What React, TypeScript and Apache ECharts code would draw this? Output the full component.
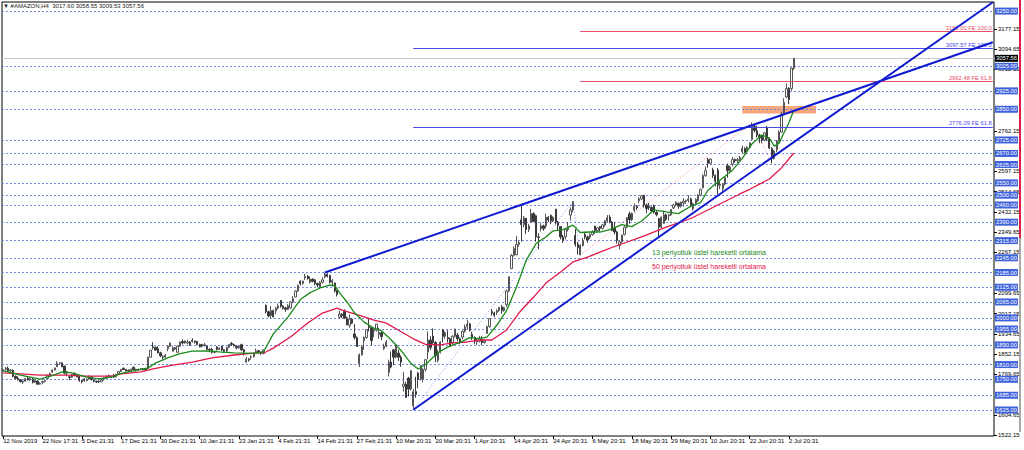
import React, { useEffect, useRef } from 'react';
import * as echarts from 'echarts';

const FONT = 'Liberation Sans';
const totalSlots = 404;
const labelEvery = 16;

const tickLabels = ['12 Nov 2019', '22 Nov 17:31', '5 Dec 21:31', '17 Dec 21:31', '30 Dec 21:31', '10 Jan 21:31', '23 Jan 21:31', '4 Feb 21:31', '14 Feb 21:31', '27 Feb 21:31', '10 Mar 20:31', '20 Mar 20:31', '1 Apr 20:31', '14 Apr 20:31', '24 Apr 20:31', '6 May 20:31', '18 May 20:31', '29 May 20:31', '10 Jun 20:31', '22 Jun 20:31', '2 Jul 20:31'];

const levelLines = [3250, 3025, 2925, 2850, 2725, 2670, 2625, 2550, 2500, 2460, 2390, 2315, 2245, 2185, 2125, 2065, 2000, 1955, 1890, 1810, 1750, 1685, 1625];

const scaleLabels = [3177.15, 3094.65, 3012.15, 2762.15, 2597.15, 2514.65, 2432.15, 2349.65, 2267.15, 2099.65, 2017.15, 1934.65, 1852.15, 1769.65, 1604.65, 1522.15];

const lastPrice = 3057.56;
const titleOHLC = ['3017.60', '3058.55', '3009.53', '3057.56'];

// [open, close, low, high] H4 bars
const nov = [
  [1782, 1790, 1778, 1794], [1790, 1795, 1786, 1800], [1795, 1784, 1780, 1802], [1784, 1788, 1781, 1792],
  [1786, 1762, 1758, 1790], [1762, 1754, 1750, 1766], [1754, 1748, 1745, 1762], [1748, 1740, 1738, 1751],
  [1738, 1742, 1731, 1746], [1742, 1752, 1740, 1755], [1754, 1748, 1745, 1760], [1748, 1753, 1743, 1756],
  [1750, 1738, 1733, 1757], [1738, 1745, 1735, 1748], [1743, 1730, 1727, 1746], [1730, 1734, 1728, 1738],
  [1738, 1741, 1730, 1744], [1741, 1745, 1737, 1749], [1753, 1766, 1752, 1768], [1766, 1773, 1763, 1777],
  [1780, 1788, 1775, 1790], [1788, 1796, 1785, 1798], [1801, 1815, 1801, 1824], [1815, 1818, 1810, 1821],
  [1817, 1800, 1800, 1817],
];
const dec = [
  [1804, 1775, 1770, 1805], [1775, 1781, 1762, 1784], [1760, 1758, 1747, 1765], [1758, 1769, 1755, 1773],
  [1775, 1765, 1762, 1776], [1765, 1760, 1757, 1768], [1763, 1745, 1740, 1763], [1745, 1740, 1733, 1748],
  [1751, 1745, 1740, 1754], [1745, 1751, 1742, 1753], [1751, 1760, 1748, 1766], [1760, 1749, 1745, 1762],
  [1747, 1742, 1738, 1750], [1742, 1739, 1735, 1745], [1742, 1740, 1735, 1746], [1740, 1748, 1738, 1750],
  [1750, 1755, 1745, 1758], [1755, 1760, 1752, 1766], [1765, 1762, 1758, 1769], [1762, 1760, 1755, 1765],
  [1767, 1760, 1755, 1770], [1760, 1769, 1758, 1770], [1773, 1782, 1770, 1784], [1782, 1790, 1780, 1792],
  [1795, 1790, 1787, 1798], [1790, 1784, 1782, 1792], [1787, 1785, 1780, 1790], [1785, 1792, 1783, 1792],
  [1799, 1790, 1787, 1802], [1790, 1786, 1782, 1793], [1788, 1790, 1785, 1794], [1790, 1793, 1788, 1796],
  [1793, 1790, 1786, 1796], [1790, 1789, 1784, 1792], [1794, 1840, 1793, 1842], [1840, 1869, 1838, 1870],
  [1883, 1880, 1872, 1901], [1880, 1869, 1866, 1884], [1874, 1858, 1855, 1884], [1858, 1846, 1840, 1862],
  [1842, 1840, 1832, 1848], [1840, 1848, 1838, 1853],
];
const jan = [
  [1875, 1885, 1864, 1888], [1885, 1898, 1882, 1898], [1864, 1878, 1864, 1886], [1878, 1874, 1870, 1882],
  [1860, 1885, 1860, 1888], [1885, 1902, 1882, 1903], [1904, 1898, 1892, 1913], [1898, 1906, 1895, 1908],
  [1898, 1902, 1892, 1911], [1902, 1891, 1886, 1905], [1909, 1905, 1900, 1917], [1905, 1901, 1895, 1908],
  [1905, 1892, 1888, 1906], [1892, 1883, 1880, 1895], [1891, 1886, 1880, 1895], [1886, 1891, 1884, 1898],
  [1885, 1872, 1868, 1887], [1872, 1869, 1860, 1876], [1872, 1860, 1855, 1878], [1860, 1862, 1856, 1866],
  [1882, 1872, 1867, 1885], [1872, 1877, 1869, 1880], [1885, 1870, 1865, 1886], [1870, 1864, 1857, 1873],
  [1865, 1880, 1860, 1883], [1880, 1892, 1877, 1894], [1896, 1892, 1886, 1902], [1892, 1887, 1883, 1895],
  [1885, 1878, 1872, 1889], [1878, 1884, 1875, 1887], [1891, 1870, 1865, 1895], [1870, 1861, 1847, 1874],
  [1820, 1832, 1817, 1841], [1832, 1828, 1822, 1836], [1840, 1842, 1830, 1848], [1842, 1853, 1839, 1858],
  [1864, 1866, 1858, 1875], [1866, 1858, 1855, 1870], [1858, 1855, 1850, 1862], [1855, 1870, 1852, 1872],
  [2051, 2025, 2018, 2055], [2025, 2008, 2003, 2030],
];
const feb = [
  [2010, 2030, 2000, 2048], [2030, 2004, 2002, 2034], [2029, 2040, 2015, 2045], [2040, 2049, 2035, 2059],
  [2071, 2048, 2042, 2073], [2048, 2039, 2034, 2052], [2041, 2035, 2025, 2045], [2035, 2050, 2032, 2056],
  [2041, 2065, 2037, 2068], [2065, 2079, 2060, 2089], [2085, 2110, 2084, 2112], [2110, 2133, 2106, 2136],
  [2150, 2140, 2132, 2153], [2140, 2150, 2136, 2152], [2163, 2170, 2155, 2180], [2170, 2160, 2156, 2174],
  [2145, 2158, 2141, 2170], [2158, 2149, 2145, 2162], [2155, 2140, 2133, 2159], [2140, 2134, 2125, 2144],
  [2126, 2145, 2124, 2150], [2145, 2155, 2140, 2166], [2167, 2178, 2161, 2185], [2178, 2170, 2165, 2182],
  [2173, 2145, 2140, 2176], [2145, 2153, 2127, 2158], [2142, 2110, 2104, 2145], [2110, 2095, 2088, 2115],
  [2003, 2015, 1996, 2029], [2015, 2009, 2000, 2020], [2026, 2000, 1995, 2035], [2000, 1972, 1970, 2005],
  [1970, 1995, 1960, 2014], [1995, 1979, 1975, 2000], [1935, 1920, 1912, 1975], [1920, 1884, 1882, 1925],
  [1814, 1850, 1800, 1855], [1850, 1883, 1845, 1889],
];
const mar = [
  [1907, 1920, 1870, 1925], [1920, 1953, 1915, 1954], [1965, 1960, 1945, 1996], [1960, 1908, 1888, 1965],
  [1946, 1950, 1922, 1958], [1950, 1975, 1945, 1975], [1933, 1940, 1915, 1960], [1940, 1924, 1910, 1945],
  [1875, 1885, 1869, 1895], [1885, 1902, 1880, 1910], [1778, 1820, 1761, 1830], [1820, 1800, 1795, 1863],
  [1870, 1840, 1807, 1872], [1840, 1891, 1835, 1893], [1857, 1840, 1825, 1871], [1840, 1820, 1801, 1848],
  [1721, 1730, 1700, 1779], [1730, 1676, 1675, 1740], [1755, 1710, 1680, 1760], [1710, 1785, 1705, 1786],
  [1641, 1700, 1626, 1710], [1700, 1689, 1675, 1760], [1775, 1750, 1714, 1780], [1750, 1807, 1745, 1807],
  [1750, 1790, 1738, 1795], [1790, 1830, 1782, 1830], [1861, 1910, 1832, 1945], [1910, 1880, 1870, 1925],
  [1926, 1900, 1890, 1957], [1900, 1846, 1820, 1905], [1827, 1860, 1818, 1870], [1860, 1902, 1855, 1905],
  [1951, 1925, 1900, 1955], [1925, 1940, 1915, 1945], [1920, 1915, 1900, 1950], [1915, 1885, 1885, 1920],
  [1898, 1925, 1890, 1930], [1925, 1955, 1920, 1956], [1930, 1915, 1905, 1939], [1915, 1900, 1893, 1920],
  [1922, 1945, 1912, 1950], [1945, 1963, 1940, 1973], [1965, 1975, 1955, 1993], [1975, 1950, 1944, 1980],
];
const apr = [
  [1933, 1920, 1910, 1944], [1920, 1907, 1893, 1925], [1901, 1905, 1890, 1915], [1905, 1918, 1900, 1927],
  [1912, 1900, 1889, 1926], [1900, 1906, 1895, 1912], [1937, 1965, 1935, 1968], [1965, 1997, 1960, 1999],
  [2026, 2020, 2010, 2036], [2020, 2011, 2003, 2025], [2022, 2030, 2012, 2035], [2030, 2043, 2025, 2044],
  [2045, 2030, 2017, 2053], [2030, 2042, 2025, 2046], [2054, 2110, 2045, 2115], [2110, 2168, 2105, 2168],
  [2201, 2255, 2201, 2260], [2255, 2283, 2250, 2292], [2257, 2300, 2256, 2333], [2300, 2307, 2290, 2315],
  [2400, 2380, 2311, 2461], [2380, 2408, 2370, 2415], [2406, 2360, 2341, 2406], [2360, 2375, 2350, 2382],
  [2390, 2425, 2388, 2444], [2425, 2393, 2390, 2430], [2416, 2330, 2310, 2420], [2330, 2328, 2280, 2345],
  [2363, 2375, 2352, 2388], [2375, 2363, 2355, 2380], [2375, 2410, 2365, 2425], [2410, 2399, 2390, 2415],
  [2418, 2395, 2382, 2420], [2395, 2410, 2390, 2414], [2443, 2390, 2380, 2444], [2390, 2376, 2357, 2395],
  [2372, 2330, 2320, 2373], [2330, 2314, 2306, 2338], [2330, 2360, 2320, 2365], [2360, 2372, 2352, 2391],
  [2419, 2440, 2396, 2450], [2440, 2474, 2430, 2475],
];
const may = [
  [2336, 2300, 2290, 2362], [2300, 2286, 2258, 2310], [2257, 2295, 2256, 2300], [2295, 2315, 2290, 2326],
  [2340, 2330, 2320, 2351], [2330, 2317, 2307, 2335], [2329, 2340, 2321, 2345], [2340, 2351, 2335, 2357],
  [2374, 2355, 2343, 2376], [2355, 2367, 2350, 2370], [2372, 2365, 2354, 2375], [2365, 2379, 2360, 2382],
  [2378, 2395, 2372, 2400], [2395, 2409, 2390, 2419], [2411, 2390, 2385, 2419], [2390, 2356, 2355, 2395],
  [2366, 2350, 2340, 2391], [2350, 2315, 2303, 2355], [2294, 2310, 2280, 2315], [2310, 2338, 2305, 2340],
  [2340, 2370, 2336, 2375], [2370, 2409, 2365, 2411], [2424, 2400, 2384, 2433], [2400, 2426, 2395, 2430],
  [2439, 2455, 2430, 2466], [2455, 2449, 2440, 2460], [2477, 2485, 2467, 2492], [2485, 2497, 2480, 2500],
  [2500, 2460, 2450, 2500], [2460, 2446, 2426, 2465], [2455, 2450, 2440, 2469], [2450, 2436, 2430, 2455],
  [2458, 2430, 2425, 2462], [2430, 2421, 2414, 2435], [2404, 2370, 2330, 2408], [2370, 2411, 2365, 2413],
  [2385, 2420, 2383, 2437], [2420, 2402, 2395, 2425], [2416, 2420, 2398, 2425], [2420, 2442, 2415, 2442],
];
const jun = [
  [2448, 2460, 2444, 2465], [2460, 2471, 2455, 2476], [2467, 2455, 2445, 2470], [2455, 2472, 2450, 2473],
  [2468, 2475, 2454, 2488], [2475, 2478, 2465, 2482], [2478, 2485, 2470, 2500], [2485, 2460, 2451, 2490],
  [2444, 2465, 2437, 2470], [2465, 2483, 2460, 2488], [2477, 2500, 2473, 2505], [2500, 2524, 2495, 2526],
  [2530, 2580, 2528, 2585], [2580, 2600, 2575, 2617], [2645, 2630, 2612, 2652], [2630, 2647, 2625, 2650],
  [2603, 2580, 2570, 2612], [2580, 2557, 2536, 2585], [2602, 2540, 2503, 2611], [2540, 2545, 2525, 2560],
  [2526, 2545, 2516, 2550], [2545, 2572, 2540, 2574], [2620, 2600, 2571, 2629], [2600, 2615, 2595, 2620],
  [2626, 2645, 2617, 2655], [2645, 2640, 2632, 2650], [2640, 2645, 2630, 2652], [2645, 2653, 2640, 2660],
  [2677, 2690, 2668, 2702], [2690, 2675, 2670, 2695], [2685, 2695, 2669, 2700], [2695, 2713, 2690, 2715],
  [2727, 2780, 2727, 2796], [2780, 2764, 2755, 2785], [2762, 2745, 2735, 2783], [2745, 2734, 2712, 2750],
  [2739, 2725, 2712, 2742], [2725, 2754, 2720, 2756], [2775, 2730, 2720, 2782], [2730, 2692, 2688, 2735],
  [2690, 2650, 2630, 2696], [2650, 2680, 2645, 2685], [2685, 2720, 2675, 2725], [2720, 2758, 2715, 2765],
];
const jul = [
  [2757, 2830, 2754, 2840], [2830, 2878, 2825, 2895], [2900, 2935, 2895, 2955], [2935, 2890, 2871, 2940],
  [2934, 3017.6, 2926, 3020], [3017.6, 3057.56, 3009.53, 3058.55],
];
const bars = [...nov, ...dec, ...jan, ...feb, ...mar, ...apr, ...may, ...jun, ...jul];

// moving averages: [bar index, value]
const ema13 = [
  [0, 1785], [7, 1767], [15, 1751], [20, 1765], [24, 1780], [28, 1776], [34, 1759], [39, 1752], [44, 1759],
  [48, 1774], [53, 1784], [59, 1796], [62, 1816], [67, 1837], [72, 1855], [77, 1865], [83, 1866], [88, 1862],
  [94, 1858], [102, 1856], [106, 1862], [110, 1935], [116, 2004], [121, 2075], [125, 2103], [129, 2122],
  [133, 2134], [135, 2133], [137, 2102], [140, 2065], [143, 2022], [147, 1983], [151, 1958], [154, 1948],
  [157, 1920], [160, 1890], [163, 1855], [166, 1815], [169, 1792], [172, 1810], [177, 1858], [181, 1881],
  [186, 1900], [190, 1920], [194, 1916], [197, 1922], [201, 1970], [205, 2030], [209, 2125], [213, 2235],
  [217, 2303], [221, 2330], [224, 2355], [228, 2360], [232, 2378], [235, 2348], [239, 2350], [243, 2350],
  [247, 2360], [252, 2380], [256, 2372], [260, 2395], [265, 2440], [270, 2432], [275, 2425], [280, 2455],
  [284, 2470], [287, 2520], [292, 2562], [297, 2602], [301, 2650], [305, 2710], [309, 2745], [312, 2733],
  [314, 2700], [316, 2712], [318, 2755], [320, 2795], [322, 2847],
];
const ema50 = [
  [0, 1776], [7, 1772], [15, 1767], [26, 1767], [34, 1763], [44, 1763], [48, 1772], [56, 1780], [61, 1792],
  [69, 1808], [77, 1820], [85, 1837], [94, 1849], [102, 1857], [107, 1861], [110, 1877], [117, 1922],
  [124, 1979], [130, 2020], [136, 2040], [138, 2032], [142, 2020], [147, 2004], [151, 1991], [156, 1979],
  [161, 1950], [167, 1915], [172, 1892], [178, 1890], [183, 1898], [189, 1902], [194, 1910], [199, 1910],
  [205, 1951], [210, 2020], [216, 2085], [221, 2142], [227, 2187], [232, 2228], [238, 2248], [243, 2268],
  [250, 2295], [260, 2330], [270, 2370], [280, 2405], [290, 2455], [300, 2505], [304, 2524], [308, 2545],
  [312, 2566], [317, 2612], [322, 2672],
];

const trendUpper = [[131, 2185], [403, 3123]];
const trendLower = [[167, 1626], [403, 3286]];
const feBluePoints = [[167, 1626], [232, 2475], [235, 2256]];
const feRedPoints = [[235, 2256], [305, 2796], [313, 2630]];
const feBlueLevels = [3097.57, 2776.09];
const feBlueNames = ['FE 100.0', 'FE 61.8'];
const feRedLevels = [3166.0, 2962.48];
const feRedNames = ['FE 100.0', 'FE 61.8'];
const zoneBars = [301, 331];
const zonePrices = [2863, 2833];

const emaNotes = ['13 periyotluk üstel hareketli ortalama', '50 periyotluk üstel hareketli ortalama'];

const BLUE_LINE = '#0f1bd0';
const GREEN = '#1b8a1b';
const CRIMSON = '#e0194a';
const FE_BLUE = '#4b4be6';
const FE_RED = '#e8506a';

export default function App() {
  const ref = useRef<HTMLDivElement>(null);
  useEffect(() => {
    document.body.style.margin = '0';
    const chart = echarts.init(ref.current!, null, { renderer: 'svg' });
    const categories = Array.from({ length: totalSlots }, (_, i) => String(i));
    const showTick = (idx: number) => idx % labelEvery === 0 && idx / labelEvery < tickLabels.length;

    const boxLabel = (v: number, bg: string) => ({
      show: true, position: 'end', distance: 1, formatter: v.toFixed(2),
      backgroundColor: bg, color: '#ffffff', fontSize: 5.8, fontFamily: FONT, padding: [1, 1, 0, 1], lineHeight: 6,
    });
    const levelData: any[] = levelLines.map((v) => ({
      yAxis: v,
      lineStyle: { color: '#7389e6', type: [2, 2], width: 1 },
      label: boxLabel(v, '#3e62dc'),
    }));
    levelData.push({
      yAxis: lastPrice,
      lineStyle: { color: '#c8c8c8', type: 'solid', width: 1 },
      label: boxLabel(lastPrice, '#000000'),
    });

    const feLine = (start: number, v: number, name: string, color: string) => [
      {
        coord: [start, v],
        lineStyle: { color, type: 'solid', width: 1 },
        label: {
          show: true, position: 'insideEndTop', distance: 1, formatter: v.toFixed(2) + ' ' + name,
          color, fontSize: 5.8, fontFamily: FONT,
        },
      },
      { coord: [403, v] },
    ];

    chart.setOption({
      animation: false,
      backgroundColor: '#ffffff',
      grid: { left: 2, right: 30, top: 2, bottom: 14, show: true, borderColor: '#000', borderWidth: 1, backgroundColor: 'transparent' },
      xAxis: {
        type: 'category', data: categories, boundaryGap: true,
        axisLine: { show: false },
        axisTick: { show: true, alignWithLabel: true, interval: showTick, length: 3, lineStyle: { color: '#000' } },
        axisLabel: {
          interval: showTick, align: 'left', margin: 2, fontSize: 6, fontFamily: FONT, color: '#000',
          formatter: (_v: string, idx: number) => tickLabels[idx / labelEvery] ?? '',
        },
        splitLine: { show: false },
      },
      yAxis: {
        type: 'value', position: 'right', min: 1519, max: 3287, scale: true,
        axisLine: { show: false },
        splitLine: { show: false },
        axisTick: { show: true, length: 3, customValues: scaleLabels, lineStyle: { color: '#000' } },
        axisLabel: {
          customValues: scaleLabels, margin: 4, fontSize: 6, fontFamily: FONT, color: '#000',
          formatter: (v: number) => v.toFixed(2),
        },
      },
      series: [
        {
          type: 'candlestick', data: bars, barWidth: 1.8, z: 3,
          itemStyle: { color: '#ffffff', color0: '#3a3a3a', borderColor: '#555555', borderColor0: '#3a3a3a', borderWidth: 1 },
          markLine: { symbol: 'none', silent: true, animation: false, z: 1, data: levelData },
        },
        {
          type: 'line', data: ema50, showSymbol: false, z: 4,
          lineStyle: { color: CRIMSON, width: 1.3 },
        },
        {
          type: 'line', data: ema13, showSymbol: false, z: 4,
          lineStyle: { color: GREEN, width: 1.3 },
        },
        {
          type: 'line', data: feBluePoints, showSymbol: false, z: 2,
          lineStyle: { color: '#8d8de8', width: 1, type: [1, 2] },
          markLine: {
            symbol: 'none', silent: true, animation: false,
            data: feBlueLevels.map((v, i) => feLine(feBluePoints[0][0], v, feBlueNames[i], FE_BLUE)),
          },
        },
        {
          type: 'line', data: feRedPoints, showSymbol: false, z: 2,
          lineStyle: { color: '#f08a9a', width: 1, type: [1, 2] },
          markLine: {
            symbol: 'none', silent: true, animation: false,
            data: feRedLevels.map((v, i) => feLine(feRedPoints[0][0], v, feRedNames[i], FE_RED)),
          },
        },
        {
          type: 'line', data: trendUpper, showSymbol: false, z: 5,
          lineStyle: { color: BLUE_LINE, width: 2 },
          markArea: {
            silent: true, z: 1,
            itemStyle: { color: '#f6a57c' },
            data: [[{ coord: [zoneBars[0], zonePrices[0]] }, { coord: [zoneBars[1], zonePrices[1]] }]],
          },
        },
        {
          type: 'line', data: trendLower, showSymbol: false, z: 5,
          lineStyle: { color: BLUE_LINE, width: 2 },
        },
      ],
      graphic: [
        {
          type: 'text', left: 3, top: 3, z: 10,
          style: { text: '▼ #AMAZON,H4  ' + titleOHLC.join(' '), fontSize: 6, fontFamily: FONT, fill: '#222' },
        },
        {
          type: 'text', left: 652, top: 249, z: 10,
          style: { text: emaNotes[0], fontSize: 7, fontFamily: FONT, fill: GREEN },
        },
        {
          type: 'text', left: 652, top: 263, z: 10,
          style: { text: emaNotes[1], fontSize: 7, fontFamily: FONT, fill: CRIMSON },
        },
        { type: 'rect', shape: { x: 1019, y: 0, width: 2, height: 238 }, style: { fill: '#dc1f48' }, z: 10 },
        { type: 'rect', shape: { x: 1019, y: 238, width: 2, height: 194 }, style: { fill: '#a8a8a8' }, z: 10 },
      ],
    });
    return () => chart.dispose();
  }, []);
  return <div ref={ref} style={{ position: 'fixed', left: 0, top: 0, width: 1024, height: 450 }} />;
}
